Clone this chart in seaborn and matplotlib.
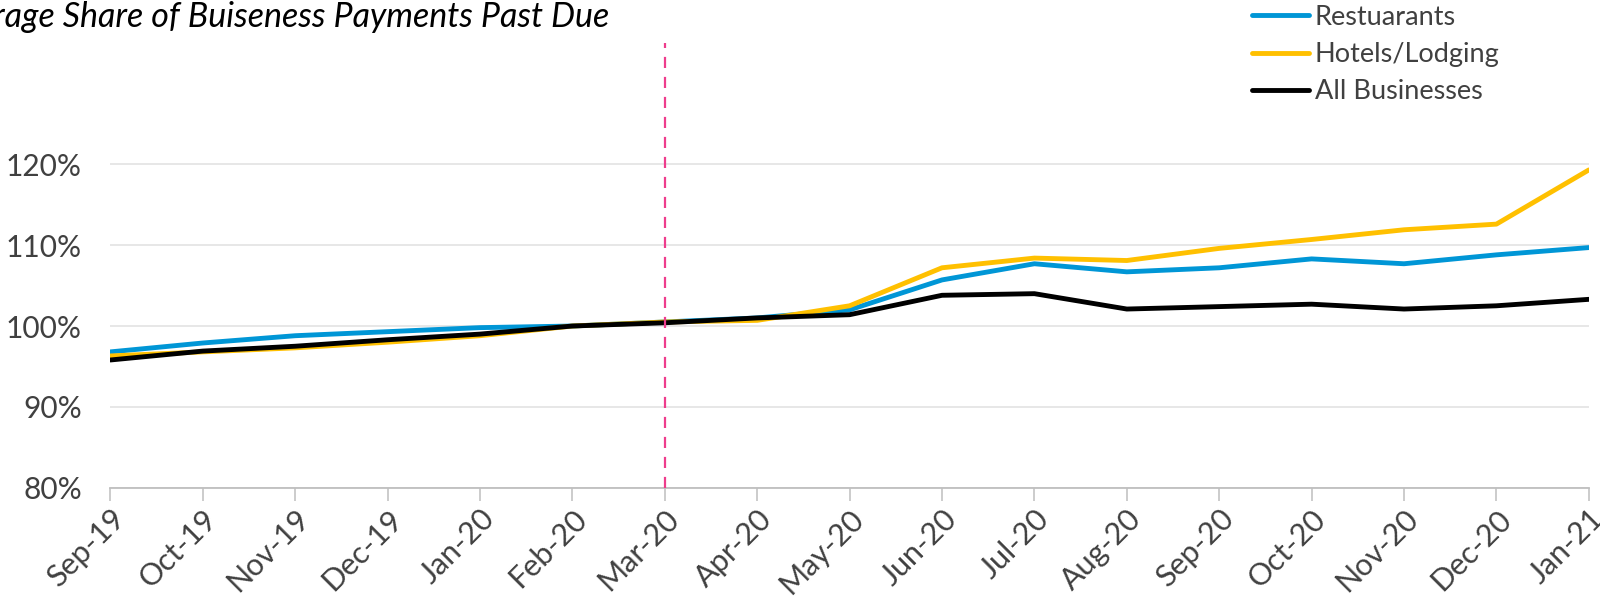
import matplotlib
matplotlib.use("Agg")
import matplotlib.pyplot as plt
import seaborn as sns
import pandas as pd
from matplotlib.ticker import FuncFormatter

months = ["Sep-19", "Oct-19", "Nov-19", "Dec-19", "Jan-20", "Feb-20", "Mar-20",
          "Apr-20", "May-20", "Jun-20", "Jul-20", "Aug-20", "Sep-20", "Oct-20",
          "Nov-20", "Dec-20", "Jan-21"]
restaurants = [0.968, 0.979, 0.988, 0.993, 0.998, 1.000, 1.005, 1.010, 1.020,
               1.057, 1.077, 1.067, 1.072, 1.083, 1.077, 1.088, 1.097]
hotels = [0.963, 0.968, 0.973, 0.980, 0.988, 1.000, 1.005, 1.007, 1.025,
          1.072, 1.084, 1.081, 1.096, 1.107, 1.119, 1.126, 1.193]
all_businesses = [0.958, 0.969, 0.975, 0.983, 0.990, 1.000, 1.004, 1.010, 1.014,
                  1.038, 1.040, 1.021, 1.024, 1.027, 1.021, 1.025, 1.033]
series_names = ["Restuarants", "Hotels/Lodging", "All Businesses"]
colors = ["#0096D6", "#FFC000", "#000000"]
event_month = "Mar-20"
title = "Average Share of Buiseness Payments Past Due"

rows = []
for name, vals in zip(series_names, [restaurants, hotels, all_businesses]):
    for i, (m, v) in enumerate(zip(months, vals)):
        rows.append({"idx": i, "month": m, "value": v, "series": name})
df = pd.DataFrame(rows)

sns.set_style("white")
plt.rcParams["font.family"] = ["Lato", "DejaVu Sans"]

fig = plt.figure(figsize=(16, 5.97), dpi=100)
ax = fig.add_axes([0.069, 0.183, 0.924, 0.745])

sns.lineplot(data=df, x="idx", y="value", hue="series", hue_order=series_names,
             palette=colors, linewidth=3.5, ax=ax, legend=False, sort=False)

ax.axvline(months.index(event_month), color="#EE3C8C", linewidth=1.6,
           linestyle=(0, (5, 4)), zorder=5)

ax.set_xlim(0, len(months) - 1)
ax.set_ylim(0.8, 1.35)
ax.set_yticks([0.8, 0.9, 1.0, 1.1, 1.2])
ax.yaxis.set_major_formatter(FuncFormatter(lambda v, p: f"{v*100:.0f}%"))
ax.set_xticks(range(len(months)))
ax.set_xticklabels(months, rotation=45, ha="right", rotation_mode="anchor")
ax.set_xlabel("")
ax.set_ylabel("")

ax.grid(axis="y", color="#E3E3E3", linewidth=1.2)
ax.grid(axis="x", visible=False)
for s in ["left", "right", "top"]:
    ax.spines[s].set_visible(False)
ax.spines["bottom"].set_color("#BFBFBF")
ax.spines["bottom"].set_linewidth(1.3)
ax.tick_params(axis="x", which="major", bottom=True, length=9, width=1.1,
               color="#BFBFBF", labelsize=22, labelcolor="#404040", pad=3)
ax.tick_params(axis="y", left=False, labelsize=21.5, labelcolor="#404040", pad=17)

handles = [plt.Line2D([0], [0], color=c, linewidth=3.5, solid_capstyle="round")
           for c in colors]
fig.legend(handles, series_names, loc="upper left", bbox_to_anchor=(0.776, 1.01),
           frameon=False, fontsize=19.5, labelcolor="#404040", handlelength=2.1,
           handletextpad=0.2, labelspacing=0.45, borderaxespad=0)

fig.text(0.381, 0.972, title, ha="right", va="center", fontsize=24.5,
         style="italic", color="#000000")

fig.savefig("out.png", dpi=100)
